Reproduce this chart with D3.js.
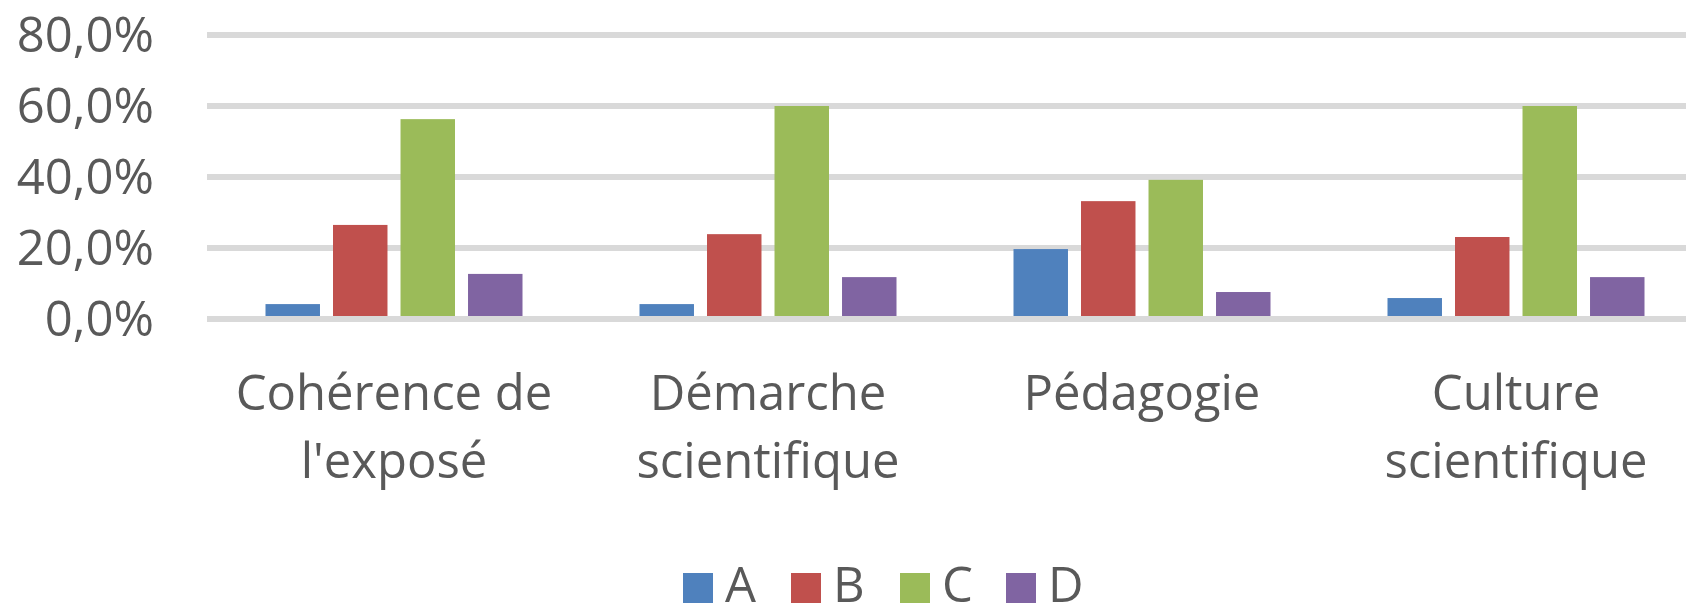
<!DOCTYPE html>
<html>
<head>
<meta charset="utf-8">
<script src="https://cdn.jsdelivr.net/npm/d3@7"></script>
<style>
  html, body { margin: 0; padding: 0; background: #fff; }
  svg { display: block; }
  text { font-family: "Open Sans", "Noto Sans", sans-serif; fill: #595959; }
</style>
</head>
<body>
<svg id="chart" width="1686" height="605"></svg>
<script>
// ---- data ----
const categories = [["Cohérence de", "l'exposé"], ["Démarche", "scientifique"], ["Pédagogie"], ["Culture", "scientifique"]];
const series = ["A", "B", "C", "D"];
const valuesA = [4.2, 4.2, 19.7, 5.9];
const valuesB = [26.5, 23.9, 33.2, 23.1];
const valuesC = [56.3, 60.0, 39.2, 60.0];
const valuesD = [12.7, 11.8, 7.6, 11.8];
const yTicks = [0, 20, 40, 60, 80];
const colors = ["#4f81bd", "#c0504d", "#9bbb59", "#8064a2"];

const seriesValues = [valuesA, valuesB, valuesC, valuesD];
const catKeys = categories.map(c => c.join(" "));

const svg = d3.select("#chart");
const W = 1686, H = 605;

const x0 = d3.scaleBand().domain(catKeys).range([207, 1703]).padding(0);
const groupW = 257;
const x1 = d3.scaleBand().domain(series).range([0, groupW]).paddingInner(0.193).paddingOuter(0);
const y = d3.scaleLinear().domain([0, 80]).range([319, 35]);

// gridlines
svg.append("g").selectAll("line").data(yTicks).join("line")
  .attr("x1", 207).attr("x2", W)
  .attr("y1", d => y(d)).attr("y2", d => y(d))
  .attr("stroke", "#d9d9d9").attr("stroke-width", 6);

// y tick labels
const fmt = d => d.toFixed(1).replace(".", ",") + "%";
svg.append("g").selectAll("text").data(yTicks).join("text")
  .attr("x", 154).attr("y", d => y(d) + 17)
  .attr("text-anchor", "end")
  .attr("font-size", 49)
  .text(fmt);

// bars
const groups = svg.append("g").selectAll("g").data(catKeys).join("g")
  .attr("transform", d => `translate(${x0(d) + x0.bandwidth() / 2 - groupW / 2},0)`);
groups.selectAll("rect")
  .data((d, i) => series.map((s, j) => ({ s, j, v: seriesValues[j][i] })))
  .join("rect")
  .attr("x", d => x1(d.s))
  .attr("width", x1.bandwidth())
  .attr("y", d => y(d.v))
  .attr("height", d => y(0) - y(d.v))
  .attr("fill", d => colors[d.j]);

// axis line over bar bottoms
svg.append("line")
  .attr("x1", 207).attr("x2", W)
  .attr("y1", y(0)).attr("y2", y(0))
  .attr("stroke", "#d9d9d9").attr("stroke-width", 6);

// category labels
const labels = svg.append("g").selectAll("text").data(categories).join("text")
  .attr("x", (d, i) => x0(catKeys[i]) + x0.bandwidth() / 2)
  .attr("y", 410)
  .attr("text-anchor", "middle")
  .attr("font-size", 49);
labels.selectAll("tspan").data(d => d).join("tspan")
  .attr("x", function () { return d3.select(this.parentNode).attr("x"); })
  .attr("dy", (d, i) => i === 0 ? 0 : 68)
  .text(d => d);

// legend
const legendX = [683, 791, 900, 1006];
const leg = svg.append("g").selectAll("g").data(series).join("g")
  .attr("transform", (d, i) => `translate(${legendX[i]},0)`);
leg.append("rect").attr("x", 0).attr("y", 573).attr("width", 30).attr("height", 30)
  .attr("fill", (d, i) => colors[i]);
leg.append("text").attr("x", 42).attr("y", 602).attr("font-size", 49).text(d => d);
</script>
</body>
</html>
